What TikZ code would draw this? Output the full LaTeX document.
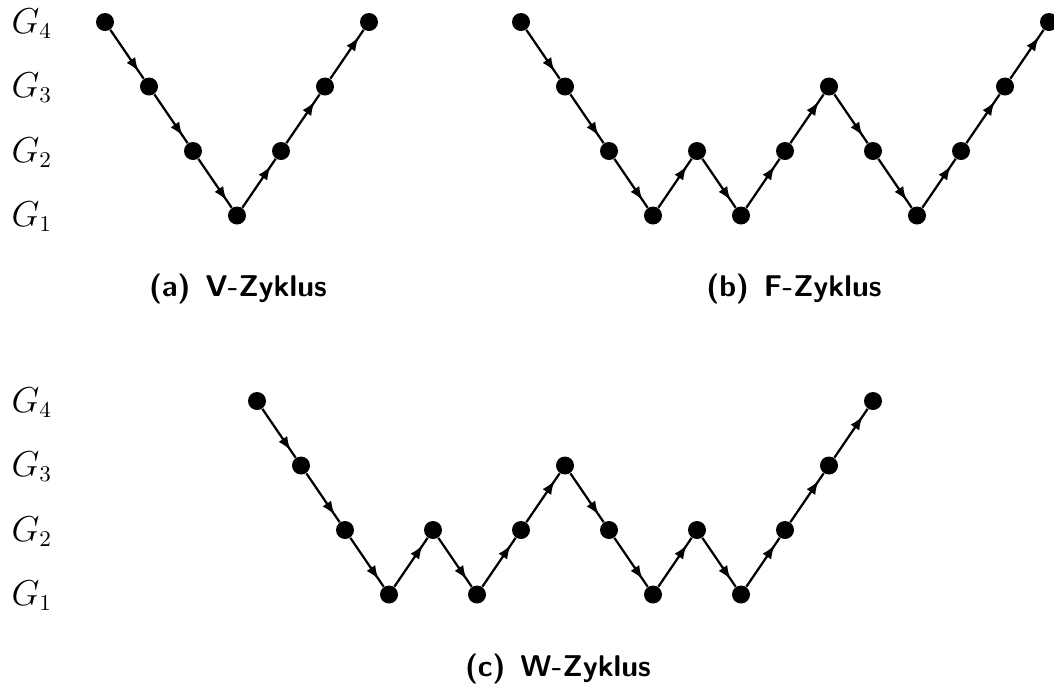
\documentclass[tikz,border=0pt]{standalone}
\usepackage{amsmath}
\usetikzlibrary{arrows.meta, decorations.markings}

\tikzset{
  grid/.style={circle, fill=black, inner sep=0pt, minimum size=7.2pt},
  lvlabel/.style={anchor=base west, inner sep=0pt, font=\fontsize{13.5}{16}\selectfont},
  flow/.style={line width=0.9pt, postaction={decorate},
    decoration={markings, mark=at position -3.5pt with {\arrow{Latex[length=5.5pt,width=4.2pt]}}}},
  subcap/.style={anchor=base, font=\large\sffamily\bfseries}
}

\begin{document}
\begin{tikzpicture}[x=0.4pt,y=-0.4pt]
    \useasboundingbox (0,0) rectangle (1054,689);

    % Level labels
    \node[lvlabel] (la4) at (11,33) {$G_4$};
    \node[lvlabel] (la3) at (11,97.5) {$G_3$};
    \node[lvlabel] (la2) at (11,162) {$G_2$};
    \node[lvlabel] (la1) at (11,226.5) {$G_1$};

    \node[lvlabel] (lc4) at (11,412) {$G_4$};
    \node[lvlabel] (lc3) at (11,476.5) {$G_3$};
    \node[lvlabel] (lc2) at (11,541) {$G_2$};
    \node[lvlabel] (lc1) at (11,605.5) {$G_1$};

    % V-cycle
    \node[grid] (a1) at (105,22) {};
    \node[grid] (a2) at (149,86.5) {};
    \node[grid] (a3) at (193,151) {};
    \node[grid] (a4) at (237,215.5) {};
    \node[grid] (a5) at (281,151) {};
    \node[grid] (a6) at (325,86.5) {};
    \node[grid] (a7) at (369,22) {};
    \foreach \i [evaluate=\i as \j using int(\i+1)] in {1,...,6}
        \draw[flow] (a\i) -- (a\j);

    % F-cycle
    \node[grid] (b1) at (521,22) {};
    \node[grid] (b2) at (565,86.5) {};
    \node[grid] (b3) at (609,151) {};
    \node[grid] (b4) at (653,215.5) {};
    \node[grid] (b5) at (697,151) {};
    \node[grid] (b6) at (741,215.5) {};
    \node[grid] (b7) at (785,151) {};
    \node[grid] (b8) at (829,86.5) {};
    \node[grid] (b9) at (873,151) {};
    \node[grid] (b10) at (917,215.5) {};
    \node[grid] (b11) at (961,151) {};
    \node[grid] (b12) at (1005,86.5) {};
    \node[grid] (b13) at (1049,22) {};
    \foreach \i [evaluate=\i as \j using int(\i+1)] in {1,...,12}
        \draw[flow] (b\i) -- (b\j);

    % W-cycle
    \node[grid] (c1) at (257,401) {};
    \node[grid] (c2) at (301,465.5) {};
    \node[grid] (c3) at (345,530) {};
    \node[grid] (c4) at (389,594.5) {};
    \node[grid] (c5) at (433,530) {};
    \node[grid] (c6) at (477,594.5) {};
    \node[grid] (c7) at (521,530) {};
    \node[grid] (c8) at (565,465.5) {};
    \node[grid] (c9) at (609,530) {};
    \node[grid] (c10) at (653,594.5) {};
    \node[grid] (c11) at (697,530) {};
    \node[grid] (c12) at (741,594.5) {};
    \node[grid] (c13) at (785,530) {};
    \node[grid] (c14) at (829,465.5) {};
    \node[grid] (c15) at (873,401) {};
    \foreach \i [evaluate=\i as \j using int(\i+1)] in {1,...,14}
        \draw[flow] (c\i) -- (c\j);

    % Captions
    \node[subcap] (capa) at (238,296) {(a)\hspace{0.5em}V-Zyklus};
    \node[subcap] (capb) at (794,296) {(b)\hspace{0.5em}F-Zyklus};
    \node[subcap] (capc) at (558,676) {(c)\hspace{0.5em}W-Zyklus};

\end{tikzpicture}
\end{document}
